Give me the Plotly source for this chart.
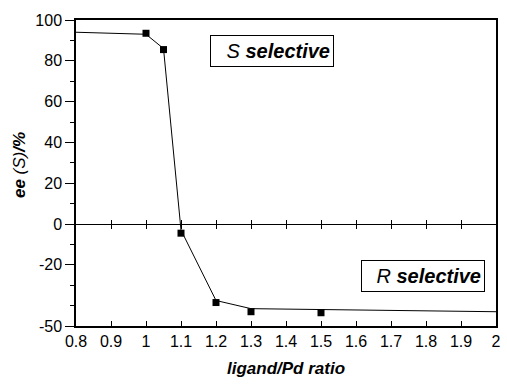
import plotly.graph_objects as go

# Data
line_x = [0.8, 1.0, 1.05, 1.1, 1.2, 1.3, 2.0]
line_y = [94, 93, 86, -3, -37.5, -41.5, -43]
pt_x = [1.0, 1.05, 1.1, 1.2, 1.3, 1.5]
pt_y = [93.5, 85.5, -4.5, -38.5, -43, -43.5]

x_tickvals = [0.8, 0.9, 1.0, 1.1, 1.2, 1.3, 1.4, 1.5, 1.6, 1.7, 1.8, 1.9, 2.0]
x_ticktext = ["0.8", "0.9", "1", "1.1", "1.2", "1.3", "1.4", "1.5", "1.6", "1.7", "1.8", "1.9", "2"]
y_tickvals = [100, 80, 60, 40, 20, 0, -20, -50]
y_ticktext = ["100", "80", "60", "40", "20", "0", "-20", "-50"]
y_minor = [90, 70, 50, 30, 10, -10, -30, -40]
x_range = [0.8, 2.0]
y_range = [-50, 100]

FONT = "Liberation Sans, Arial, Helvetica, sans-serif"
xr = [x_range[0] - 1e-6, x_range[1] + 1e-6]

fig = go.Figure()
fig.add_trace(go.Scatter(x=line_x, y=line_y, mode="lines",
                         line=dict(color="black", width=1), showlegend=False,
                         hoverinfo="skip"))
fig.add_trace(go.Scatter(x=pt_x, y=pt_y, mode="markers",
                         marker=dict(symbol="square", size=7, color="black"),
                         showlegend=False))

zero_pos = (0 - y_range[0]) / (y_range[1] - y_range[0])

fig.update_layout(
    width=507, height=384,
    margin=dict(l=76, r=6, t=20, b=58),
    paper_bgcolor="white", plot_bgcolor="white",
    font=dict(family=FONT, size=16, color="black"),
    xaxis=dict(range=xr, tickvals=x_tickvals, ticktext=x_ticktext,
               ticks="inside", ticklen=5, tickwidth=1, tickcolor="black",
               showline=True, linecolor="black", linewidth=1.5, mirror=True,
               showgrid=False, zeroline=False,
               tickfont=dict(family=FONT, size=16, color="black")),
    xaxis2=dict(range=xr, overlaying="x", anchor="free", position=zero_pos,
                tickvals=x_tickvals[1:-1], ticks="outside", ticklen=4,
                tickcolor="black", showticklabels=False, showline=True,
                linecolor="black", linewidth=1, showgrid=False, zeroline=False),
    xaxis3=dict(range=xr, overlaying="x", anchor="free", position=zero_pos,
                tickvals=x_tickvals[1:-1], ticks="inside", ticklen=4,
                tickcolor="black", showticklabels=False, showline=False,
                showgrid=False, zeroline=False),
    yaxis=dict(range=y_range, tickvals=y_tickvals, ticktext=y_ticktext,
               ticks="outside", ticklen=9, tickwidth=1, tickcolor="black",
               minor=dict(tickvals=y_minor, ticks="outside", ticklen=4,
                          tickcolor="black", showgrid=False),
               showline=True, linecolor="black", linewidth=1.5, mirror=True,
               showgrid=False, zeroline=False,
               tickfont=dict(family=FONT, size=16, color="black")),
)

# invisible traces so the overlay axes render
fig.add_trace(go.Scatter(x=[x_range[0]], y=[y_range[0]], xaxis="x2", mode="markers",
                         marker=dict(opacity=0), showlegend=False, hoverinfo="skip"))
fig.add_trace(go.Scatter(x=[x_range[0]], y=[y_range[0]], xaxis="x3", mode="markers",
                         marker=dict(opacity=0), showlegend=False, hoverinfo="skip"))

fig.add_annotation(x=1.36, y=85, xref="x", yref="y",
                   text="<i>S</i> <b><i>selective</i></b>", showarrow=False,
                   font=dict(family=FONT, size=20, color="black"),
                   bordercolor="black", borderwidth=1, borderpad=3,
                   bgcolor="white", width=116, height=24, align="right")
fig.add_annotation(x=1.79, y=-25.3, xref="x", yref="y",
                   text="<i>R</i> <b><i>selective</i></b>", showarrow=False,
                   font=dict(family=FONT, size=20, color="black"),
                   bordercolor="black", borderwidth=1, borderpad=3,
                   bgcolor="white", width=116, height=24, align="right")

# axis titles
fig.add_annotation(x=0.5, y=0, xref="paper", yref="paper", yshift=-42,
                   xanchor="center", yanchor="middle",
                   text="<b><i>ligand/Pd ratio</i></b>", showarrow=False,
                   font=dict(family=FONT, size=17, color="black"))
fig.add_annotation(x=0, y=0.526, xref="paper", yref="paper", xshift=-57,
                   xanchor="center", yanchor="middle", textangle=-90,
                   text="<b><i>ee</i></b> <i>(S)</i><b><i>/%</i></b>", showarrow=False,
                   font=dict(family=FONT, size=17, color="black"))

fig.write_html("out.html", config={"displayModeBar": False},
               post_script="document.body.style.margin='0';")
